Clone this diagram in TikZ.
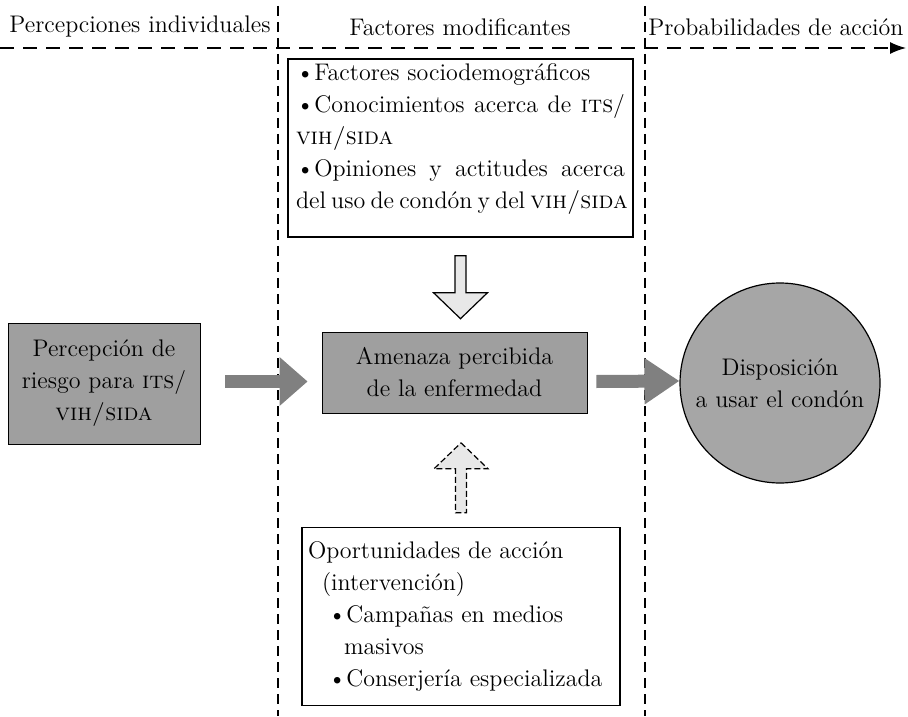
\documentclass[tikz,border=0pt]{standalone}
\usepackage{fontspec}
\usetikzlibrary{arrows.meta}
\usetikzlibrary{positioning}
\tikzstyle{every node} = [font=\fontsize{12}{16}\selectfont]
\tikzstyle{head} = [inner sep=0pt]
\tikzstyle{greybox} = [rectangle, draw=black, fill=gray!75, text centered, align=center]
\tikzstyle{whitebox} = [rectangle, draw=black, line width=0.7pt, inner xsep=4pt, inner ysep=2.5pt]
\tikzstyle{divider} = [draw=black, line width=0.7pt, dash pattern=on 5pt off 3pt]
\tikzstyle{bigarrow} = [draw=gray, line width=6.5pt]
\tikzstyle{openarrow} = [draw=black, fill=gray!18, line width=0.6pt]

\begin{document}
\begin{tikzpicture}[x=0.5pt, y=-0.5pt]
  \useasboundingbox (0,0) rectangle (908,716);

  % column headings
  \node (hpercep) [head] at (140,27) {Percepciones individuales};
  \node (hfact) [head] at (460,27) {Factores modificantes};
  \node (hprob) [head] at (776,27) {Probabilidades de acción};

  \coordinate (d1t) at (278,6);
  \coordinate (d1b) at (278,716);
  \coordinate (d2t) at (645,6);
  \coordinate (d2b) at (645,716);
  \coordinate (hl) at (0,48);
  \coordinate (hr) at (906,48);
  \draw[divider] (d1t) -- (d1b);
  \draw[divider] (d2t) -- (d2b);
  \draw[divider, dash pattern=on 7pt off 4.5pt, -{Latex[length=8pt,width=6pt]}] (hl) -- (hr);

  % boxes
  \node (factores) [whitebox] at (460.5,148) {%
\parbox[c][84pt][t]{164.5pt}{\textbullet Factores sociodemográficos\\
\makebox[\linewidth][s]{\textbullet Conocimientos acerca de \textsc{its}/}\\
\textsc{vih/sida}\\
\makebox[\linewidth][s]{\textbullet Opiniones y actitudes acerca}\\
\makebox[\linewidth][s]{del uso de condón y del \textsc{vih/sida}}}};

  \node (perc) [greybox, minimum width=96pt, minimum height=60.5pt] at (104,383.5)
    {Percepción de\\ riesgo para \textsc{its}/\\ \textsc{vih/sida}};
  \node (amenaza) [greybox, minimum width=132.5pt, minimum height=40.5pt] at (454.5,372.5)
    {Amenaza percibida\\ de la enfermedad};
  \node (disp) [circle, draw=black, line width=0.6pt, fill=gray!70, minimum size=100pt, align=center] at (780,383)
    {Disposición\\ a usar el condón};

  \node (oport) [whitebox, inner xsep=3pt] at (461,616.5) {%
\parbox[c][84pt][c]{153pt}{Oportunidades de acción\\
\mbox{}\hspace{7pt}(intervención)\\
\mbox{}\hspace{10pt}\textbullet Campañas en medios\\
\mbox{}\hspace{18pt}masivos\\
\mbox{}\hspace{10pt}\textbullet Conserjería especializada}};

  % arrows
  \draw[bigarrow, -{Triangle[length=14pt,width=23.5pt]}]
    ([xshift=12.5pt,yshift=1pt]perc.east) -- ([xshift=-7pt,yshift=1pt]perc.east -| amenaza.west);
  \draw[bigarrow, -{Triangle[length=17.5pt,width=22pt]}]
    ([xshift=4.5pt,yshift=1pt]amenaza.east |- perc.east) -- ([yshift=1pt]disp.west);

  \coordinate (dtip) at ([yshift=-40.5pt]factores.south);
  \draw[openarrow] (dtip) -- ++(27,-26) -- ++(-21.5,0) -- ++(0,-37) -- ++(-11,0)
    -- ++(0,37) -- ++(-21.5,0) -- cycle;

  \coordinate (utip) at ([yshift=42pt]oport.north);
  \draw[openarrow, dash pattern=on 3pt off 1.5pt] (utip) -- ++(27,26) -- ++(-21.5,0)
    -- ++(0,44) -- ++(-11,0) -- ++(0,-44) -- ++(-21.5,0) -- cycle;
\end{tikzpicture}
\end{document}
